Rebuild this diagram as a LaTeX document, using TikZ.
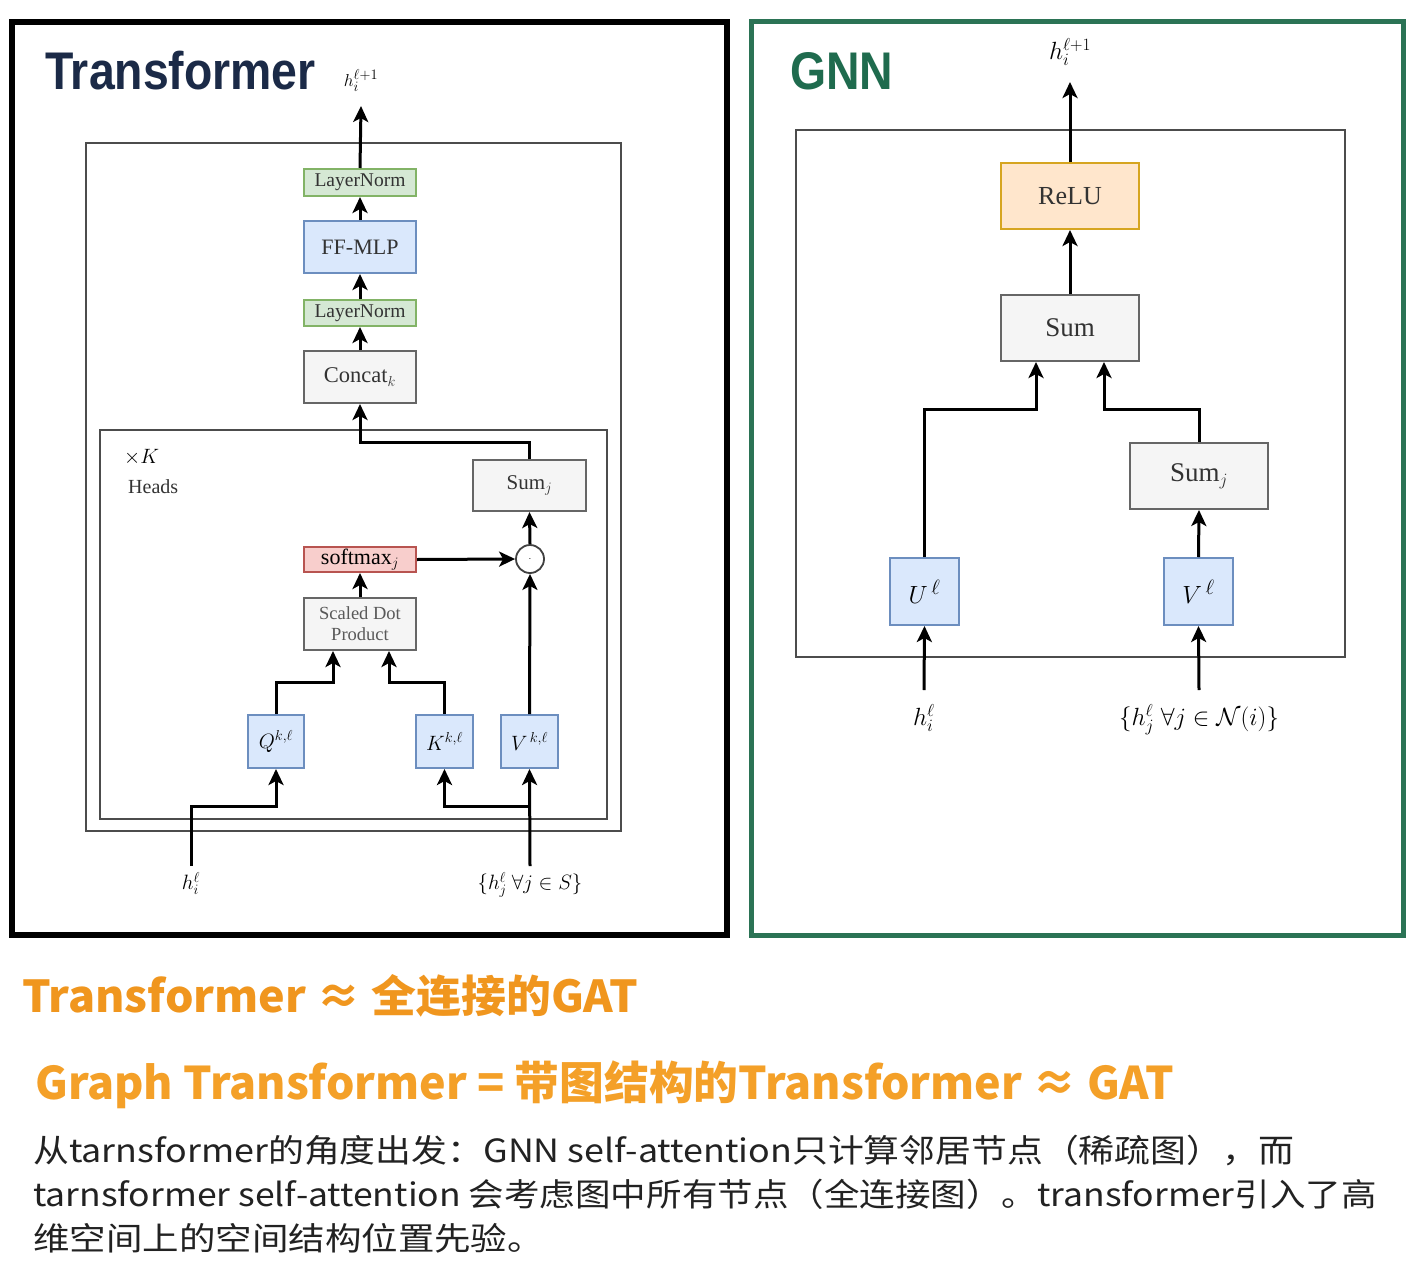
\documentclass[tikz,border=0pt]{standalone}
\usepackage{fontspec}
\setmainfont{Liberation Serif}
\newfontfamily\headfont{Liberation Sans}
\newfontfamily\cjk{Noto Sans CJK SC}
\usetikzlibrary{arrows.meta}
\definecolor{navy}{HTML}{1B2A47}
\definecolor{gnngreen}{HTML}{1F6B4E}
\definecolor{framegreen}{HTML}{2B7355}
\definecolor{orangeA}{HTML}{F0961E}
\definecolor{orangeB}{HTML}{F4A028}
\definecolor{txt}{HTML}{222222}
\definecolor{lblgray}{HTML}{333333}
\definecolor{HTMLgreen}{HTML}{82B366}
\definecolor{HTMLgreenfill}{HTML}{D5E8D4}
\definecolor{HTMLblue}{HTML}{6C8EBF}
\definecolor{HTMLbluefill}{HTML}{DAE8FC}
\definecolor{HTMLgray}{HTML}{666666}
\definecolor{HTMLgrayfill}{HTML}{F5F5F5}
\definecolor{HTMLred}{HTML}{B85450}
\definecolor{HTMLredfill}{HTML}{F8CECC}
\definecolor{HTMLorange}{HTML}{D6A520}
\definecolor{HTMLorangefill}{HTML}{FFE6CC}
\tikzset{
  blk/.style={draw, rectangle, line width=2pt, inner sep=0pt, text=lblgray},
  greenbox/.style={blk, draw=HTMLgreen, fill=HTMLgreenfill},
  bluebox/.style={blk, draw=HTMLblue, fill=HTMLbluefill},
  graybox/.style={blk, draw=HTMLgray, fill=HTMLgrayfill},
  redbox/.style={blk, draw=HTMLred, fill=HTMLredfill},
  orangebox/.style={blk, draw=HTMLorange, fill=HTMLorangefill},
  arr/.style={line width=3pt, draw=black, -{Stealth[length=16pt,width=15pt,inset=4pt]}},
  lbl/.style={inner sep=0pt, text=black},
  frame/.style={draw=black!70, line width=1.8pt},
  para/.style={anchor=base west, inner sep=0pt, text=txt, font=\cjk\fontsize{32}{36}\selectfont},
}
\begin{document}
\begin{tikzpicture}[x=1pt,y=-1pt]
\useasboundingbox (0,0) rectangle (1426,1279);
\fill[white] (0,0) rectangle (1426,1279);

% ---------- outer frames ----------
\draw[line width=6pt, black] (12,22) rectangle (727,935);
\draw[line width=5pt, framegreen] (751,22) rectangle (1403,935);

% titles
\node[anchor=base west, inner sep=0pt, text=navy] (ttitle) at (45,90)
  {\headfont\bfseries\fontsize{53}{60}\selectfont\scalebox{0.875}[1]{Transformer}};
\node[anchor=base west, inner sep=0pt, text=gnngreen] (gtitle) at (790,90)
  {\headfont\bfseries\fontsize{53}{60}\selectfont\scalebox{0.875}[1]{GNN}};

% ---------- Transformer ----------
\draw[frame] (86,143) rectangle (621,831);
\draw[frame] (100,430) rectangle (607,819);

\node[greenbox, minimum width=112pt, minimum height=27pt, font=\fontsize{19.5}{20}\selectfont] (ln1) at (360,182.5) {LayerNorm};
\node[bluebox, minimum width=112pt, minimum height=52pt, font=\fontsize{22}{24}\selectfont] (ffmlp) at (360,247) {FF-MLP};
\node[greenbox, minimum width=112pt, minimum height=26pt, font=\fontsize{19.5}{20}\selectfont] (ln2) at (360,313) {LayerNorm};
\node[graybox, minimum width=112pt, minimum height=52pt, font=\fontsize{22.5}{24}\selectfont] (concat) at (360,377) {Concat$_k$};

\node[anchor=west, inner sep=0pt, font=\fontsize{21}{22}\selectfont] (xk) at (124,457) {$\times K$};
\node[anchor=west, inner sep=0pt, font=\fontsize{20}{22}\selectfont, text=lblgray] (heads) at (128,487) {Heads};

\node[graybox, minimum width=113pt, minimum height=51pt, font=\fontsize{21}{22}\selectfont] (sumj) at (529.5,485.5) {Sum$_j$};
\node[redbox, minimum width=112pt, minimum height=25pt, font=\fontsize{22}{22}\selectfont, text=black] (softmax) at (360,559.5) {softmax$_j$};
\node[draw=black!75, circle, line width=1.8pt, fill=white, minimum size=28pt, inner sep=0pt] (dot) at (530,559) {$\cdot$};
\node[graybox, minimum width=112pt, minimum height=52pt, font=\fontsize{18.5}{24}\selectfont, text=black!65, align=center] (sdp) at (360,624) {Scaled Dot\\[-3pt]Product};

\node[bluebox, minimum width=56pt, minimum height=53pt, font=\fontsize{22}{24}\selectfont, text=black] (Q) at (276,741.5) {$Q^{k,\ell}$};
\node[bluebox, minimum width=57pt, minimum height=53pt, font=\fontsize{22}{24}\selectfont, text=black] (K) at (444.5,741.5) {$K^{k,\ell}$};
\node[bluebox, minimum width=57pt, minimum height=53pt, font=\fontsize{22}{24}\selectfont, text=black] (V) at (529.5,741.5) {$V^{\,k,\ell}$};

\node[lbl, anchor=south, inner ysep=14pt, font=\fontsize{19}{20}\selectfont] (hout1) at (361,106) {$h_i^{\ell+1}$};
\node[lbl, anchor=north, inner ysep=6pt, font=\fontsize{21}{22}\selectfont] (hin1) at (191,866) {$h_i^{\ell}$};
\node[lbl, anchor=north, inner ysep=6pt, font=\fontsize{20}{22}\selectfont] (hs1) at (530,866) {$\{h_j^{\ell}\ \forall j\in S\}$};

\draw[arr] (ln1.north) -- (hout1.south);
\draw[arr] (ffmlp.north) -- (ln1.south);
\draw[arr] (ln2.north) -- (ffmlp.south);
\draw[arr] (concat.north) -- (ln2.south);
\draw[arr] (sumj.north) -- ++(0,-17) -| (concat.south);
\draw[arr] (softmax.east) -- (dot.west);
\draw[arr] (dot.north) -- (sumj.south);
\draw[arr] (sdp.north) -- (softmax.south);
\draw[arr] (Q.north) -- ++(0,-32) -| ([xshift=-27pt]sdp.south);
\draw[arr] (K.north) -- ++(0,-32) -| ([xshift=29pt]sdp.south);
\draw[arr] (V.north) -- (dot.south);
\draw[arr] (hin1.north) -- ++(0,-60) -| (Q.south);
\draw[arr] (hs1.north) -- (V.south);
\draw[arr] ([yshift=60pt]hs1.north) -| (K.south);

% ---------- GNN ----------
\draw[frame] (796,130) rectangle (1345,657);

\node[orangebox, minimum width=138pt, minimum height=66pt, font=\fontsize{26}{28}\selectfont] (relu) at (1070,196) {ReLU};
\node[graybox, minimum width=138pt, minimum height=66pt, font=\fontsize{27}{28}\selectfont] (gsum) at (1070,328) {Sum};
\node[graybox, minimum width=138pt, minimum height=66pt, font=\fontsize{27}{28}\selectfont] (gsumj) at (1199,476) {Sum$_j$};
\node[bluebox, minimum width=69pt, minimum height=67pt, font=\fontsize{28}{28}\selectfont, text=black] (U) at (924.5,591.5) {$U^{\,\ell}$};
\node[bluebox, minimum width=69pt, minimum height=67pt, font=\fontsize{28}{28}\selectfont, text=black] (gV) at (1198.5,591.5) {$V^{\,\ell}$};

\node[lbl, anchor=south, inner ysep=16pt, font=\fontsize{25}{26}\selectfont] (hout2) at (1070,82) {$h_i^{\ell+1}$};
\node[lbl, anchor=north, inner ysep=14pt, font=\fontsize{26}{28}\selectfont] (hin2) at (924,690) {$h_i^{\ell}$};
\node[lbl, anchor=north, inner ysep=14pt, font=\fontsize{27}{28}\selectfont] (hs2) at (1199,690) {$\{h_j^{\ell}\ \forall j\in \mathcal{N}(i)\}$};

\draw[arr] (relu.north) -- (hout2.south);
\draw[arr] (gsum.north) -- (relu.south);
\draw[arr] (U.north) -- ++(0,-148) -| ([xshift=-34pt]gsum.south);
\draw[arr] (gsumj.north) -- ++(0,-33) -| ([xshift=34pt]gsum.south);
\draw[arr] (gV.north) -- (gsumj.south);
\draw[arr] (hin2.north) -- (U.south);
\draw[arr] (hs2.north) -- (gV.south);

% ---------- bottom text ----------
\node[anchor=base west, inner sep=0pt, text=orangeA, font=\cjk\bfseries\fontsize{44}{48}\selectfont] (l1) at (22,1012)
  {\scalebox{1.02}[1]{Transformer ≈ 全连接的GAT}};
\node[anchor=base west, inner sep=0pt, text=orangeB, font=\cjk\bfseries\fontsize{45}{48}\selectfont] (l2) at (35,1099)
  {\scalebox{0.995}[1]{Graph Transformer = 带图结构的Transformer ≈ GAT}};
\node[para] (p1) at (33,1162)
  {\scalebox{1.12}[1]{从tarnsformer的角度出发：GNN self-attention只计算邻居节点（稀疏图），而}};
\node[para] (p2) at (33,1206)
  {\scalebox{1.11}[1]{tarnsformer self-attention 会考虑图中所有节点（全连接图）。transformer引入了高}};
\node[para] (p3) at (33,1250)
  {\scalebox{1.14}[1]{维空间上的空间结构位置先验。}};
\end{tikzpicture}
\end{document}
